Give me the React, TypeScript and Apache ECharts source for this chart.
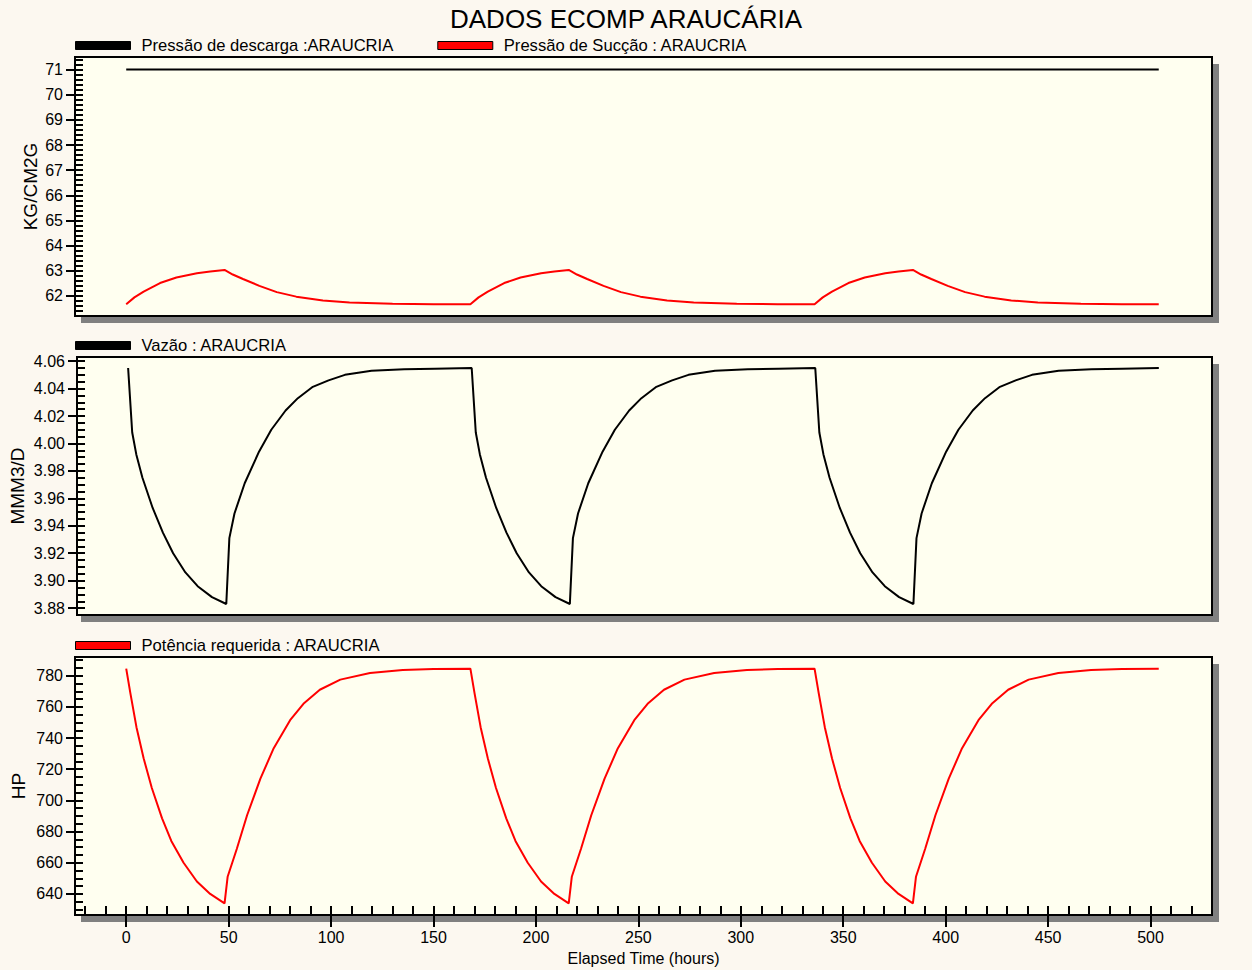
import React, { useEffect, useRef } from "react";
import * as echarts from "echarts";

// ---------- DATA ----------
const title = "DADOS ECOMP ARAUCÁRIA";
const nameDescarga = "Pressão de descarga :ARAUCRIA";
const nameSuccao = "Pressão de Sucção : ARAUCRIA";
const nameVazao = "Vazão : ARAUCRIA";
const namePotencia = "Potência requerida : ARAUCRIA";

const xTicks = [0, 50, 100, 150, 200, 250, 300, 350, 400, 450, 500];
const pressTicks = [62, 63, 64, 65, 66, 67, 68, 69, 70, 71];
const flowTicks = [3.88, 3.9, 3.92, 3.94, 3.96, 3.98, 4.0, 4.02, 4.04, 4.06];
const powerTicks = [640, 660, 680, 700, 720, 740, 760, 780];

const descargaHours = [0, 168, 336, 504];
const descargaValues = [71.0, 71.0, 71.0, 71.0];

const succaoHours = [
  0, 4, 8.5, 16.5, 24.5, 34.5, 41, 48, 52, 57, 65, 73.5, 83, 96, 109, 130, 150,
  168, 172, 176.5, 184.5, 192.5, 202.5, 209, 216, 220, 225, 233, 241.5, 251, 264, 277, 298, 318,
  336, 340, 344.5, 352.5, 360.5, 370.5, 377, 384, 388, 393, 401, 409.5, 419, 432, 445, 466, 486, 504,
];
const succaoValues = [
  61.67, 61.94, 62.17, 62.51, 62.73, 62.9, 62.97, 63.03, 62.85, 62.67, 62.4, 62.15, 61.97, 61.82, 61.74, 61.69, 61.67,
  61.67, 61.94, 62.17, 62.51, 62.73, 62.9, 62.97, 63.03, 62.85, 62.67, 62.4, 62.15, 61.97, 61.82, 61.74, 61.69, 61.67,
  61.67, 61.94, 62.17, 62.51, 62.73, 62.9, 62.97, 63.03, 62.85, 62.67, 62.4, 62.15, 61.97, 61.82, 61.74, 61.69, 61.67, 61.67,
];

const vazaoHours = [
  0, 2, 4, 7, 12, 17, 22, 28, 34, 41, 48, 49.5, 52, 57, 64, 70, 77, 83, 90, 98, 106, 119, 135, 150,
  168, 170, 172, 175, 180, 185, 190, 196, 202, 209, 216, 217.5, 220, 225, 232, 238, 245, 251, 258, 266, 274, 287, 303, 318,
  336, 338, 340, 343, 348, 353, 358, 364, 370, 377, 384, 385.5, 388, 393, 400, 406, 413, 419, 426, 434, 442, 455, 471, 486, 504,
];
const vazaoValues = [
  4.055, 4.008, 3.992, 3.975, 3.953, 3.935, 3.92, 3.906, 3.896, 3.888, 3.883, 3.931, 3.949, 3.971, 3.994, 4.01, 4.024, 4.033, 4.041, 4.046, 4.05, 4.053, 4.054, 4.0545,
  4.055, 4.008, 3.992, 3.975, 3.953, 3.935, 3.92, 3.906, 3.896, 3.888, 3.883, 3.931, 3.949, 3.971, 3.994, 4.01, 4.024, 4.033, 4.041, 4.046, 4.05, 4.053, 4.054, 4.0545,
  4.055, 4.008, 3.992, 3.975, 3.953, 3.935, 3.92, 3.906, 3.896, 3.888, 3.883, 3.931, 3.949, 3.971, 3.994, 4.01, 4.024, 4.033, 4.041, 4.046, 4.05, 4.053, 4.054, 4.0545, 4.055,
];

const potenciaHours = [
  0, 2, 5, 8.5, 12.5, 17.5, 22, 28, 34.5, 41, 48, 49.5, 54, 59, 65.5, 72, 80, 86.5, 94.5, 104.5, 119, 135, 150,
  168, 170, 173, 176.5, 180.5, 185.5, 190, 196, 202.5, 209, 216, 217.5, 222, 227, 233.5, 240, 248, 254.5, 262.5, 272.5, 287, 303, 318,
  336, 338, 341, 344.5, 348.5, 353.5, 358, 364, 370.5, 377, 384, 385.5, 390, 395, 401.5, 408, 416, 422.5, 430.5, 440.5, 455, 471, 486, 504,
];
const potenciaValues = [
  784.5, 769, 747, 727, 708, 688.5, 674, 660, 648, 640, 634, 651, 669, 690.5, 714, 733.5, 751.5, 762, 771, 777.5, 781.7, 783.7, 784.3,
  784.5, 769, 747, 727, 708, 688.5, 674, 660, 648, 640, 634, 651, 669, 690.5, 714, 733.5, 751.5, 762, 771, 777.5, 781.7, 783.7, 784.3,
  784.5, 769, 747, 727, 708, 688.5, 674, 660, 648, 640, 634, 651, 669, 690.5, 714, 733.5, 751.5, 762, 771, 777.5, 781.7, 783.7, 784.3, 784.5,
];

// ---------- LAYOUT / STYLE ----------
const FONT = "'Liberation Sans', Arial, sans-serif";
const PAGE_BG = "#FCF8F0";
const PLOT_BG = "#FFFFF0";
const L = 75;
const R = 1212;
const W = R - L;
const panels = [
  { top: 57, bottom: 316 },
  { top: 357, bottom: 615 },
  { top: 657, bottom: 915 },
];
const X_MIN = -25;
const X_MAX = 530;

const pairs = (xs: number[], ys: number[]) => xs.map((x, i) => [x, ys[i]]);

export default function App() {
  const ref = useRef<HTMLDivElement>(null);
  useEffect(() => {
    if (!ref.current) return;
    const chart = echarts.init(ref.current, null, { renderer: "svg" });

    const grids = panels.map((p) => ({
      left: L,
      top: p.top,
      width: W,
      height: p.bottom - p.top,
      show: true,
      backgroundColor: PLOT_BG,
      borderColor: "#000",
      borderWidth: 2,
      containLabel: false,
    }));

    const textStyle = { fontFamily: FONT, fontSize: 16, color: "#000" };
    const nameStyle = { fontFamily: FONT, fontSize: 19, color: "#000" };

    const innerX = (gi: number, showTicks: boolean) => ({
      type: "value",
      gridIndex: gi,
      position: "bottom",
      offset: 0,
      min: X_MIN,
      max: X_MAX,
      splitNumber: 11,
      axisLine: { show: showTicks, onZero: false, lineStyle: { color: "#000", width: 2 } },
      axisTick: { show: showTicks, inside: true, length: 9, lineStyle: { color: "#000", width: 2 } },
      minorTick: { show: showTicks, splitNumber: 5, length: 9, lineStyle: { color: "#000", width: 2 } },
      axisLabel: { show: false },
      splitLine: { show: false },
    });

    const xAxes: any[] = [
      innerX(0, false),
      innerX(1, false),
      innerX(2, true),
      {
        type: "value",
        gridIndex: 2,
        position: "bottom",
        offset: 0,
        min: X_MIN,
        max: X_MAX,
        splitNumber: 11,
        axisLine: { show: false, onZero: false },
        axisTick: {
          show: true,
          inside: false,
          length: 12,
          customValues: xTicks,
          lineStyle: { color: "#000", width: 2 },
        },
        axisLabel: { show: true, customValues: xTicks, margin: 14, ...textStyle },
        splitLine: { show: false },
        name: "Elapsed Time (hours)",
        nameLocation: "middle",
        nameGap: 35,
        nameMoveOverlap: false,
        nameTextStyle: textStyle,
      },
    ];

    const yPair = (
      gi: number,
      min: number,
      max: number,
      splitNumber: number,
      minorSplit: number,
      ticks: number[],
      fmt: (v: number) => string,
      name: string,
      nameGap: number
    ) => [
      {
        type: "value",
        gridIndex: gi,
        position: "left",
        offset: 0,
        min,
        max,
        splitNumber,
        axisLine: { show: true, onZero: false, lineStyle: { color: "#000", width: 2 } },
        axisTick: { show: true, inside: true, length: 8, lineStyle: { color: "#000", width: 2 } },
        minorTick: { show: true, splitNumber: minorSplit, length: 8, lineStyle: { color: "#000", width: 2 } },
        axisLabel: { show: false },
        splitLine: { show: false },
      },
      {
        type: "value",
        gridIndex: gi,
        position: "left",
        offset: 0,
        min,
        max,
        splitNumber,
        axisLine: { show: false, onZero: false },
        axisTick: {
          show: true,
          inside: false,
          length: 9,
          customValues: ticks,
          lineStyle: { color: "#000", width: 2 },
        },
        axisLabel: { show: true, customValues: ticks, margin: 12, formatter: fmt, ...textStyle },
        splitLine: { show: false },
        name,
        nameLocation: "middle",
        nameRotate: 90,
        nameGap,
        nameMoveOverlap: false,
        nameTextStyle: nameStyle,
      },
    ];

    const yAxes: any[] = [
      ...yPair(0, 61.2, 71.5, 10, 5, pressTicks, (v) => String(Math.round(v)), "KG/CM2G", 35),
      ...yPair(1, 3.875, 4.063, 9, 4, flowTicks, (v) => v.toFixed(2), "MMM3/D", 50),
      ...yPair(2, 626.5, 792, 8, 4, powerTicks, (v) => String(Math.round(v)), "HP", 47),
    ];

    const lineSeries = (name: string, xi: number, yi: number, color: string, xs: number[], ys: number[]) => ({
      type: "line",
      name,
      xAxisIndex: xi,
      yAxisIndex: yi,
      data: pairs(xs, ys),
      showSymbol: false,
      symbol: "none",
      color,
      lineStyle: { color, width: 2 },
      clip: true,
    });

    const legendBase = {
      left: L,
      padding: 0,
      icon: "rect",
      itemWidth: 55,
      itemHeight: 8,
      itemGap: 44,
      orient: "horizontal",
      itemStyle: { borderColor: "#000", borderWidth: 1 },
      textStyle: { ...textStyle, fontSize: 16.6, padding: [0, 0, 0, 6] },
      selectedMode: false,
    };

    const shadows: any[] = [];
    panels.forEach((p) => {
      shadows.push({
        type: "rect",
        shape: { x: R + 1, y: p.top + 7, width: 6, height: p.bottom - p.top },
        style: { fill: "#808080" },
        silent: true,
      });
      shadows.push({
        type: "rect",
        shape: { x: L + 6, y: p.bottom + 1, width: W + 1, height: 6 },
        style: { fill: "#808080" },
        silent: true,
      });
    });

    chart.setOption({
      animation: false,
      backgroundColor: PAGE_BG,
      title: {
        text: title,
        left: "center",
        top: 1,
        textStyle: { fontFamily: FONT, fontSize: 26, fontWeight: "normal", color: "#000" },
      },
      legend: [
        { ...legendBase, top: 37, data: [nameDescarga, nameSuccao] },
        { ...legendBase, top: 337, data: [nameVazao] },
        { ...legendBase, top: 637, data: [namePotencia] },
      ],
      grid: grids,
      xAxis: xAxes,
      yAxis: yAxes,
      graphic: shadows,
      series: [
        lineSeries(nameDescarga, 0, 0, "#000000", descargaHours, descargaValues),
        lineSeries(nameSuccao, 0, 0, "#FF0000", succaoHours, succaoValues),
        lineSeries(nameVazao, 1, 2, "#000000", vazaoHours, vazaoValues),
        lineSeries(namePotencia, 2, 4, "#FF0000", potenciaHours, potenciaValues),
      ],
    });

    return () => {
      chart.dispose();
    };
  }, []);

  return (
    <div
      ref={ref}
      style={{ position: "absolute", left: 0, top: 0, width: 1252, height: 970, background: PAGE_BG }}
    />
  );
}
